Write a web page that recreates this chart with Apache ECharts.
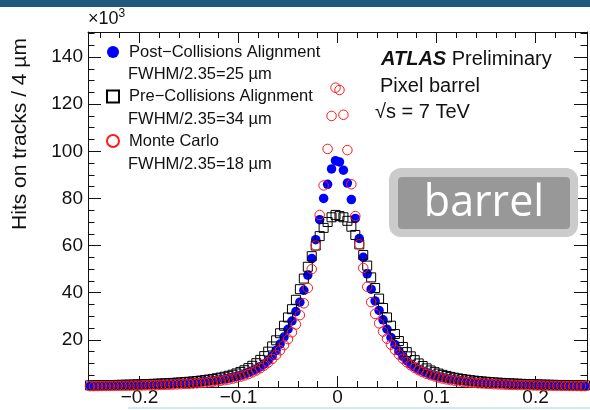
<!DOCTYPE html>
<html>
<head>
<meta charset="utf-8">
<script src="https://cdn.jsdelivr.net/npm/echarts@6/dist/echarts.min.js"></script>
<style>html,body{margin:0;padding:0;background:#fff}#c{width:590px;height:410px}</style>
</head>
<body>
<div id="c"></div>
<script>
// ---- data (thousands of hits per 4 um bin), listed from the centre bin outward ----
const binWidth = 0.004; // mm
const seriesNames = ['Post\u2212Collisions Alignment', 'Pre\u2212Collisions Alignment', 'Monte Carlo'];
const fwhmLabels = ['FWHM/2.35=25 \u00b5m', 'FWHM/2.35=34 \u00b5m', 'FWHM/2.35=18 \u00b5m'];
const xTickLabels = ['\u22120.2', '\u22120.1', '0', '0.1', '0.2'];
const yTickLabels = ['20', '40', '60', '80', '100', '120', '140'];

const postRight = [95.5,92,86.5,79.5,71.5,63,55,48,41.5,36.5,32.5,28.5,24.5,21,18,15.3,13,11.2,9.7,8.5,7.5,6.7,6.0,5.4,4.85,4.4,4.0,3.65,3.35,3.1,2.85,2.65,2.45,2.28,2.12,1.98,1.85,1.73,1.62,1.52,1.43,1.35,1.27,1.2,1.13,1.07,1.01,0.96,0.91,0.87,0.83,0.79,0.76,0.73,0.7,0.67,0.64,0.62,0.6,0.58,0.56,0.54,0.52];
const postLeft = [96,92.5,86,80,71,62.5,54.5,47.5,41,36,32,28,24.5,21.2,18.2,15.5,13.2,11.3,9.8,8.6,7.6,6.8,6.1,5.5,4.9,4.45,4.05,3.7,3.4,3.12,2.88,2.67,2.47,2.3,2.14,2.0,1.87,1.75,1.64,1.54,1.45,1.36,1.28,1.21,1.14,1.08,1.02,0.97,0.92,0.88,0.84,0.8,0.77,0.74,0.71,0.68,0.65,0.63,0.61,0.59,0.57,0.55,0.53];
const preRight = [72.5,72,70.5,68,64.5,60.5,56,51.5,46.5,42,37.5,33.5,29.5,26,22.5,19.5,17,14.8,13,11.4,10,8.9,7.9,7.0,6.3,5.7,5.15,4.7,4.3,3.95,3.65,3.38,3.13,2.9,2.7,2.52,2.36,2.21,2.07,1.95,1.84,1.74,1.64,1.55,1.47,1.4,1.33,1.27,1.21,1.15,1.1,1.05,1.0,0.96,0.92,0.88,0.85,0.82,0.79,0.76,0.73,0.7,0.68];
const preLeft = [73,72,70,67.5,64,60,55.5,51,46,41.5,37,33,29.5,26,22.8,19.8,17.2,15,13.1,11.5,10.1,9.0,8.0,7.1,6.4,5.75,5.2,4.75,4.35,4.0,3.7,3.42,3.16,2.93,2.73,2.55,2.38,2.23,2.09,1.97,1.86,1.75,1.65,1.56,1.48,1.41,1.34,1.28,1.22,1.16,1.11,1.06,1.01,0.97,0.93,0.89,0.86,0.83,0.8,0.77,0.74,0.71,0.69];
const mcRight = [126,115.5,100.5,86,72.5,60.5,50.5,42.5,36,31,27,23.5,20.5,18,15.8,13.8,12,10.5,9.2,8.1,7.1,6.3,5.6,5.0,4.5,4.0,3.6,3.25,2.95,2.7,2.45,2.25,2.05,1.9,1.75,1.6,1.5,1.4,1.3,1.2,1.12,1.05,0.98,0.92,0.87,0.82,0.78,0.74,0.7,0.66,0.63,0.6,0.57,0.54,0.52,0.5,0.48,0.46,0.44,0.42,0.4,0.38,0.37];
const mcLeft = [127,115,101,85.5,73,60,50,42,35.5,30.5,26.5,23.2,20.3,17.8,15.6,13.6,11.9,10.4,9.1,8.0,7.0,6.2,5.5,4.9,4.4,3.95,3.55,3.2,2.9,2.65,2.42,2.22,2.03,1.87,1.72,1.58,1.47,1.37,1.28,1.19,1.11,1.04,0.97,0.91,0.86,0.81,0.77,0.73,0.69,0.65,0.62,0.59,0.56,0.53,0.51,0.49,0.47,0.45,0.43,0.41,0.39,0.37,0.36];

// ---- build histogram points (bin centres from the bin width) ----
function build(left, right) {
  const pts = [];
  for (let i = left.length - 1; i >= 0; i--) pts.push([-(binWidth / 2 + binWidth * i), left[i]]);
  for (let i = 0; i < right.length; i++) pts.push([binWidth / 2 + binWidth * i, right[i]]);
  return pts;
}
const FONT = "'Liberation Sans', Arial, Helvetica, sans-serif";
const XMIN = -0.252, XMAX = 0.252, YMAX = 150.6;
const axCol = '#111';

function xAx(pos, major, labels) {
  return {
    type: 'value', position: pos, min: XMIN, max: XMAX, splitNumber: major ? 5 : 25,
    axisLine: { show: major, onZero: false, lineStyle: { color: axCol, width: 1 } },
    axisTick: { show: true, inside: true, length: major ? 11 : 6, lineStyle: { color: axCol, width: 1 } },
    axisLabel: labels ? {
      show: true, fontFamily: FONT, fontSize: 19, color: '#111', margin: 1,
      formatter: function (v) {
        const k = Math.round(v * 10);
        if (Math.abs(v * 10 - k) > 1e-6) return '';
        return xTickLabels[k + 2] || '';
      }
    } : { show: false },
    splitLine: { show: false }
  };
}
function yAx(pos, major, labels) {
  return {
    type: 'value', position: pos, min: 0, max: YMAX, interval: major ? 20 : 5,
    axisLine: { show: major, onZero: false, lineStyle: { color: axCol, width: 1 } },
    axisTick: { show: true, inside: true, length: major ? 13 : 6.5, lineStyle: { color: axCol, width: 1 } },
    axisLabel: labels ? {
      show: true, fontFamily: FONT, fontSize: 19, color: '#111', margin: 5,
      formatter: function (v) {
        const k = Math.round(v / 20);
        if (Math.abs(v - k * 20) > 1e-6 || k < 1) return '';
        return yTickLabels[k - 1] || '';
      }
    } : { show: false },
    splitLine: { show: false }
  };
}

const chart = echarts.init(document.getElementById('c'), null, { renderer: 'canvas' });
chart.setOption({
  animation: false,
  backgroundColor: '#ffffff',
  grid: { left: 88, right: 2, top: 32, bottom: 23, containLabel: false },
  xAxis: [xAx('bottom', true, true), xAx('bottom', false, false), xAx('top', true, false), xAx('top', false, false)],
  yAxis: [yAx('left', true, true), yAx('left', false, false), yAx('right', true, false), yAx('right', false, false)],
  legend: {
    orient: 'vertical', left: 106, top: 43.5, padding: 0, itemWidth: 12, itemHeight: 12, itemGap: 27.5,
    selectedMode: false,
    textStyle: { fontFamily: FONT, fontSize: 16.5, color: '#111', lineHeight: 17, padding: [0, 0, 0, 5] },
    data: seriesNames
  },
  series: [
    {
      name: seriesNames[0], type: 'scatter', xAxisIndex: 0, yAxisIndex: 0, z: 2,
      symbol: 'circle', symbolSize: 9.5,
      itemStyle: { color: '#0000ff', opacity: 1 },
      data: build(postLeft, postRight)
    },
    {
      name: seriesNames[1], type: 'scatter', xAxisIndex: 0, yAxisIndex: 0, z: 3,
      symbol: 'rect', symbolSize: 9,
      itemStyle: { color: 'rgba(0,0,0,0)', borderColor: '#000', borderWidth: 1, opacity: 1 },
      data: build(preLeft, preRight)
    },
    {
      name: seriesNames[2], type: 'scatter', xAxisIndex: 0, yAxisIndex: 0, z: 4,
      symbol: 'circle', symbolSize: 9.5,
      itemStyle: { color: 'rgba(0,0,0,0)', borderColor: '#ff1a1a', borderWidth: 1, opacity: 1 },
      data: build(mcLeft, mcRight)
    }
  ],
  graphic: [
    { type: 'rect', left: 0, top: 0, shape: { width: 590, height: 7 }, style: { fill: '#1e5a7e' }, z: 100 },
    { type: 'rect', left: 128, top: 407, shape: { width: 462, height: 2 }, style: { fill: '#d2e9f6' }, z: 100 },
    { type: 'text', x: 88, y: 19, style: { text: '\u00d710{s|3}', fontFamily: FONT, fontSize: 18, fill: '#111', textVerticalAlign: 'middle',
      rich: { s: { fontSize: 12, verticalAlign: 'top', padding: [0, 0, 10, 0] } } } },
    { type: 'text', x: 20, y: 134, rotation: Math.PI / 2,
      style: { text: 'Hits on tracks / 4 \u00b5m', fontFamily: FONT, fontSize: 21, fill: '#111', textAlign: 'center', textVerticalAlign: 'middle' } },
    { type: 'text', x: 128, y: 74, style: { text: fwhmLabels[0], fontFamily: FONT, fontSize: 16.5, fill: '#111', textVerticalAlign: 'middle' } },
    { type: 'text', x: 128, y: 119, style: { text: fwhmLabels[1], fontFamily: FONT, fontSize: 16.5, fill: '#111', textVerticalAlign: 'middle' } },
    { type: 'text', x: 128, y: 164, style: { text: fwhmLabels[2], fontFamily: FONT, fontSize: 16.5, fill: '#111', textVerticalAlign: 'middle' } },
    { type: 'text', x: 381, y: 59, style: { text: '{b|ATLAS} Preliminary', fontFamily: FONT, fontSize: 20, fill: '#111', textVerticalAlign: 'middle',
      rich: { b: { fontFamily: FONT, fontSize: 20, fontWeight: 'bold', fontStyle: 'italic', fill: '#111' } } } },
    { type: 'text', x: 380, y: 86, style: { text: 'Pixel barrel', fontFamily: FONT, fontSize: 20, fill: '#111', textVerticalAlign: 'middle' } },
    { type: 'text', x: 375, y: 112, style: { text: '\u221As = 7 TeV', fontFamily: FONT, fontSize: 20, fill: '#111', textVerticalAlign: 'middle' } },
    { type: 'rect', left: 389, top: 168, shape: { width: 189, height: 69, r: 12 }, style: { fill: '#cbcbcb' }, z: 50 },
    { type: 'rect', left: 398, top: 177, shape: { width: 172, height: 52, r: 4 }, style: { fill: '#989898' }, z: 51 },
    { type: 'text', x: 484, y: 204, z: 52, style: { text: 'barrel', fontFamily: "'Open Sans', 'DejaVu Sans', sans-serif", fontSize: 43, fill: '#ffffff', textAlign: 'center', textVerticalAlign: 'middle' } }
  ]
});
</script>
</body>
</html>
